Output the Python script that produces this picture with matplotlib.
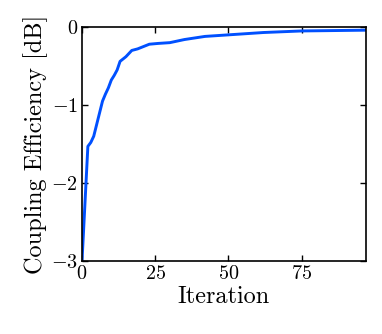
import matplotlib
matplotlib.use("Agg")
import matplotlib.pyplot as plt

iterations = [0, 2, 3, 4, 5, 6, 7, 8, 9, 10, 11, 12, 13, 15, 17, 19, 21, 23, 26, 30, 35, 42, 50, 62, 75, 97]
efficiency_db = [-3.0, -1.53, -1.48, -1.40, -1.25, -1.10, -0.95, -0.86, -0.78, -0.68, -0.62, -0.55,
                 -0.44, -0.38, -0.30, -0.28, -0.25, -0.22, -0.21, -0.20, -0.16, -0.12, -0.10,
                 -0.07, -0.05, -0.04]
xticks = [0, 25, 50, 75]
yticks = [-3, -2, -1, 0]

plt.rcParams['font.family'] = 'serif'
plt.rcParams['font.serif'] = ['cmr10']
plt.rcParams['mathtext.fontset'] = 'cm'
plt.rcParams['axes.formatter.use_mathtext'] = True

fig = plt.figure(figsize=(3.82, 3.34), dpi=100)
ax = fig.add_axes([0.2147, 0.2186, 0.958 - 0.2147, 0.919 - 0.2186])
ax.plot(iterations, efficiency_db, color='#0050ff', lw=2.1)
ax.set_xlim(0, 97)
ax.set_ylim(-3, 0)
ax.set_xticks(xticks)
ax.set_yticks(yticks)
ax.tick_params(direction='in', top=True, right=True, length=4, width=1, labelsize=14.5, pad=3)
for s in ax.spines.values():
    s.set_linewidth(1.2)
ax.set_xlabel('Iteration', fontsize=17.5, labelpad=2)
ax.set_ylabel('Coupling Efficiency [dB]', fontsize=17.5, labelpad=2)
fig.savefig('out.png', dpi=100)
